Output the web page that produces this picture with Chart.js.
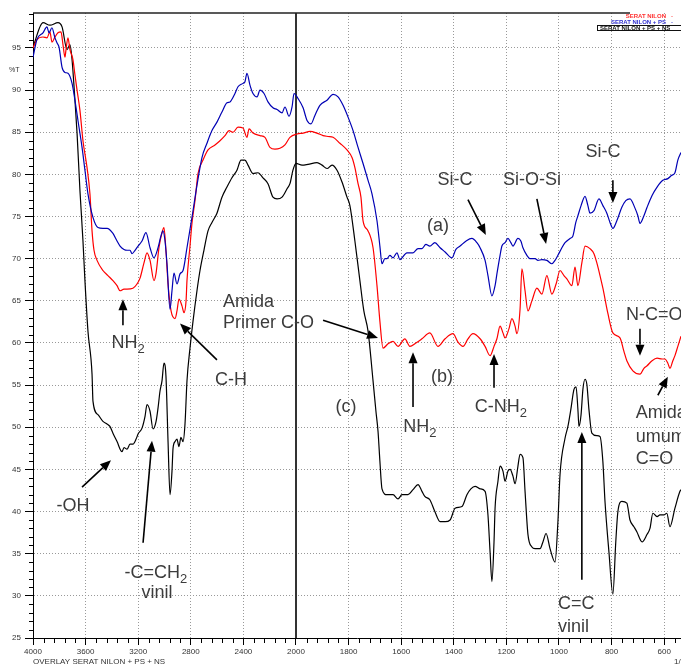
<!DOCTYPE html>
<html>
<head>
<meta charset="utf-8">
<script src="https://cdn.jsdelivr.net/npm/chart.js@4.4.0/dist/chart.umd.min.js"></script>
<style>
  html, body { margin: 0; padding: 0; background: #fff; }
  #wrap { position: relative; width: 681px; height: 664px; }
</style>
</head>
<body>
<div id="wrap"><canvas id="ftir" width="681" height="664"></canvas></div>
<script>
// tick labels
const xTickLabels = ['4000', '3600', '3200', '2800', '2400', '2000', '1800', '1600', '1400', '1200', '1000', '800', '600'];
const yTickLabels = ['25', '30', '35', '40', '45', '50', '55', '60', '65', '70', '75', '80', '85', '90', '95'];

// (a) serat nilon + PS  (blue)
const waveA = [4000, 3970, 3924, 3894, 3878, 3856, 3833, 3817, 3802, 3779, 3757, 3734, 3703, 3681, 3658, 3627, 3605, 3582, 3544, 3506,
    3468, 3437, 3392, 3361, 3338, 3308, 3285, 3262, 3247, 3224, 3201, 3171, 3141, 3110, 3080, 3049, 3027, 3011, 2996, 2981,
    2958, 2943, 2928, 2905, 2882, 2859, 2829, 2791, 2753, 2715, 2677, 2639, 2601, 2563, 2525, 2502, 2464, 2441, 2403, 2388,
    2373, 2350, 2327, 2296, 2274, 2243, 2213, 2175, 2144, 2106, 2084, 2053, 2030, 2015, 1992, 1973, 1958, 1943, 1928, 1909,
    1882, 1859, 1840, 1821, 1802, 1783, 1764, 1745, 1726, 1711, 1692, 1681, 1673, 1662, 1654, 1643, 1631, 1616, 1605, 1578,
    1555, 1536, 1521, 1506, 1491, 1472, 1452, 1433, 1407, 1392, 1376, 1353, 1331, 1312, 1300, 1281, 1270, 1255, 1243, 1236,
    1224, 1217, 1205, 1194, 1183, 1175, 1156, 1145, 1137, 1122, 1110, 1091, 1080, 1065, 1046, 1027, 1015, 1004, 989, 977,
    958, 947, 936, 928, 916, 901, 890, 882, 867, 848, 833, 818, 806, 795, 780, 761, 746, 730, 711, 700,
    692, 677, 665, 646, 627, 605, 586, 571, 559, 548, 536];
const transA = [93.9, 96, 96.8, 97.5, 96.8, 97.4, 96.2, 95.6, 95.1, 92.7, 92.1, 92, 90.8, 88.8, 86.4, 83.2, 80.5, 77.7, 74.9, 73.7,
    73.6, 73.6, 73, 72.1, 71.5, 71.1, 71, 71, 70.6, 71, 71.5, 72.1, 73.1, 71.3, 70.1, 71.3, 72.7, 73.3, 72.1, 69.4,
    64, 66.2, 68.3, 67, 68.2, 68.6, 71.3, 74.9, 78.7, 82, 83.7, 85.2, 86.2, 87.4, 88.5, 88.6, 89.6, 90.4, 90.8, 91,
    92, 90.6, 89.6, 89.2, 90, 89.6, 88.6, 87.9, 87.7, 87.3, 88, 86.9, 88, 89.6, 89, 87.9, 86.4, 86, 87, 88.2,
    88.8, 89.5, 89.2, 88.2, 86.8, 85.2, 83.2, 81.3, 79.3, 77.7, 74.5, 71.5, 69.4, 70, 70, 70.4, 70.1, 70.7, 69.9, 70.7,
    70.7, 71.2, 71.2, 71.7, 71.5, 71.9, 71.3, 70.8, 70.1, 71.1, 71.5, 72.1, 72.4, 71.9, 71.3, 69.8, 68, 65.6, 66.8, 68.2,
    70.4, 71.5, 71.9, 72.4, 71.9, 71.5, 72.4, 72.1, 71.3, 70.4, 70, 70, 69.8, 69.9, 69.8, 69.4, 69.8, 70.4, 71.3, 71.9,
    72.4, 72.7, 74.3, 75.1, 76.3, 77.4, 76.3, 75.4, 75.7, 77.1, 76.3, 75.4, 74.3, 73.6, 74.5, 76.1, 76.9, 77.1, 76, 75.1,
    74.2, 75.1, 76.1, 77.5, 78.5, 79.3, 79.5, 79.9, 80.2, 81.7, 82.6];

// (b) serat nilon  (red)
const waveB = [4000, 3970, 3924, 3894, 3871, 3856, 3833, 3810, 3787, 3772, 3757, 3749, 3734, 3719, 3696, 3681, 3665, 3643, 3620, 3589,
    3567, 3551, 3536, 3513, 3468, 3430, 3392, 3361, 3338, 3308, 3285, 3240, 3209, 3186, 3156, 3133, 3110, 3080, 3064, 3042,
    3019, 3004, 2989, 2973, 2950, 2920, 2905, 2890, 2867, 2852, 2836, 2829, 2806, 2791, 2768, 2745, 2707, 2669, 2616, 2578,
    2540, 2509, 2479, 2441, 2403, 2373, 2357, 2327, 2274, 2236, 2198, 2160, 2122, 2084, 2046, 1996, 1973, 1947, 1920, 1897,
    1878, 1859, 1833, 1806, 1787, 1776, 1764, 1753, 1745, 1726, 1707, 1692, 1681, 1669, 1650, 1631, 1612, 1586, 1567, 1544,
    1521, 1491, 1460, 1433, 1403, 1384, 1365, 1346, 1327, 1300, 1281, 1262, 1247, 1236, 1224, 1213, 1205, 1190, 1179, 1167,
    1160, 1148, 1141, 1129, 1118, 1103, 1084, 1065, 1046, 1027, 1011, 996, 981, 970, 951, 939, 928, 913, 901, 882,
    867, 856, 844, 833, 814, 795, 768, 753, 742, 719, 692, 677, 665, 646, 627, 608, 597, 586, 578, 567,
    559, 548, 536];
const transB = [95, 96, 96.3, 96.2, 96.9, 95.7, 96.3, 96.8, 96.9, 95.4, 93.9, 94.8, 96.2, 94.8, 93.6, 91.8, 90, 87.6, 84, 80.8,
    77.7, 73.3, 71, 69.8, 68.6, 68, 67.4, 66.8, 66.2, 66.4, 66.4, 66.5, 67, 67.7, 69.5, 70.7, 69.8, 67.4, 68.3, 71.3,
    73.1, 73.7, 71, 67, 63.8, 62.9, 63.8, 65.2, 64.4, 63.6, 65, 67.4, 71.5, 74.2, 76.9, 80.1, 81.7, 82.9, 83.5, 84,
    84.6, 85.2, 85, 85.6, 85.5, 84.4, 85.4, 84.9, 84.6, 84.4, 83.2, 83, 83.1, 83.5, 84.4, 84.8, 84.9, 85.1, 84.9, 84.6,
    84.5, 84.4, 83.7, 82.9, 82, 80.8, 78.9, 77.3, 74.5, 73.3, 71.3, 66.8, 62.6, 59.4, 59.9, 60.2, 59.6, 60.5, 59.6, 60,
    60.5, 61.2, 59.6, 60.5, 61.1, 60.1, 59.6, 60.5, 61.1, 60.5, 59.6, 58.5, 59.6, 60.5, 62, 61.2, 60.6, 61.7, 62.9, 62,
    61.1, 64, 68.8, 66.2, 63.8, 65, 66.5, 65.8, 68, 65.8, 67, 68.6, 68, 67.6, 66.8, 69, 66.8, 69.5, 71.5, 71.2,
    70.6, 69.5, 68, 66.5, 63.5, 61.2, 60.6, 59, 57.9, 56.7, 56.3, 57, 57.3, 57.9, 58.2, 58.1, 58.1, 57.6, 57, 57.9,
    58.5, 59.6, 60.8];

// (c) serat nilon + PS + NS  (black)
const waveC = [4000, 3924, 3871, 3810, 3779, 3741, 3719, 3703, 3681, 3665, 3643, 3620, 3605, 3582, 3551, 3544, 3506, 3468, 3437, 3415,
    3392, 3361, 3323, 3308, 3285, 3262, 3240, 3216, 3201, 3171, 3148, 3133, 3110, 3087, 3064, 3049, 3034, 3019, 3004, 2989,
    2973, 2958, 2943, 2935, 2920, 2905, 2890, 2875, 2859, 2844, 2829, 2806, 2783, 2753, 2730, 2700, 2669, 2639, 2601, 2563,
    2525, 2487, 2449, 2418, 2388, 2365, 2327, 2289, 2251, 2213, 2175, 2144, 2106, 2068, 2046, 2023, 2000, 1977, 1954, 1920,
    1901, 1882, 1863, 1844, 1825, 1806, 1795, 1776, 1757, 1742, 1726, 1707, 1696, 1688, 1681, 1673, 1654, 1631, 1612, 1597,
    1574, 1555, 1536, 1521, 1510, 1491, 1472, 1452, 1433, 1414, 1395, 1369, 1350, 1335, 1319, 1300, 1281, 1270, 1262, 1255,
    1247, 1243, 1232, 1224, 1213, 1205, 1194, 1186, 1175, 1167, 1156, 1148, 1137, 1129, 1118, 1103, 1091, 1072, 1061, 1049,
    1034, 1015, 1004, 996, 977, 966, 955, 943, 935, 928, 924, 916, 909, 901, 894, 886, 875, 856, 844, 833,
    825, 810, 795, 784, 776, 761, 742, 730, 715, 704, 684, 665, 654, 643, 627, 616, 601, 590, 578, 559,
    540, 536];
const transC = [95.1, 98, 97.7, 98, 97.5, 94.8, 95.4, 93.6, 88.8, 84.9, 78.1, 72.1, 67.4, 61.4, 56.3, 53.1, 51.5, 50.7, 50.4, 50.1,
    49.3, 48.3, 47.1, 47.6, 47.4, 48, 48, 48.6, 49.2, 49.9, 51.3, 52.7, 51.9, 49.8, 50.7, 52.3, 54.3, 55.5, 57.6, 56.1,
    48.3, 42, 44.8, 47.5, 48.3, 48.6, 47.7, 48.8, 48.3, 50.4, 55.5, 59.4, 62.6, 66.2, 68.6, 71, 73.3, 74.3, 75.4, 77.3,
    78.5, 79.6, 80.5, 81.7, 81.7, 81.1, 80.1, 80.2, 79.6, 78.9, 77.3, 77.1, 77.3, 78.3, 78.9, 80.5, 81.3, 81.1, 81.2, 81.4,
    81.1, 80.7, 81.1, 80.5, 79.1, 77.3, 76.3, 72.1, 67.4, 63.8, 61.4, 55.5, 51.9, 49.5, 46, 42.7, 42, 42, 41.5, 42,
    42, 42.6, 43.2, 42.4, 41.8, 41.4, 40, 38.8, 38.8, 39, 40.4, 40.6, 42, 42.7, 43, 42.7, 42.4, 39.6, 35.2, 31.7,
    36.4, 40.4, 43.6, 45.4, 44.8, 43.6, 44.8, 45, 44.2, 43.3, 45.4, 46.8, 46.4, 42.4, 37.3, 35.8, 35.6, 35.6, 36.4, 37.4,
    35.6, 34, 38.8, 44.4, 48.7, 50.1, 52.1, 54.5, 54.8, 52.1, 50.1, 51.5, 54.5, 55.7, 55.1, 52.1, 49.3, 49, 48.9, 45.9,
    41.2, 35.2, 30.2, 36.4, 40, 41.2, 41, 39, 38.2, 37.6, 36.4, 37.3, 38, 39.8, 39.4, 39.6, 39.6, 39.8, 38.2, 40.4,
    42.4, 42.6];

const legendNames = ['SERAT NILON', 'SERAT NILON + PS', 'SERAT NILON + PS + NS'];

// band labels, placed in data units (wavenumber, %T)
const notes = [
    { text: 'NH_2', wn: 3277, t: 60.0, align: 'center' },
    { text: 'C-H', wn: 2494, t: 55.6, align: 'center' },
    { text: '-OH', wn: 3696, t: 40.7, align: 'center' },
    { text: '-C=CH_2', wn: 3065, t: 32.7, align: 'center' },
    { text: 'vinil', wn: 3057, t: 30.35, align: 'center' },
    { text: 'Amida', wn: 2555, t: 64.9, align: 'left' },
    { text: 'Primer C-O', wn: 2555, t: 62.4, align: 'left' },
    { text: 'NH_2', wn: 1529, t: 50.0, align: 'center' },
    { text: 'C-NH_2', wn: 1221, t: 52.4, align: 'center' },
    { text: '(a)', wn: 1460, t: 73.9, align: 'center' },
    { text: '(b)', wn: 1445, t: 56.0, align: 'center' },
    { text: '(c)', wn: 1810, t: 52.4, align: 'center' },
    { text: 'Si-C', wn: 1395, t: 79.3, align: 'center' },
    { text: 'Si-O-Si', wn: 1103, t: 79.3, align: 'center' },
    { text: 'Si-C', wn: 833, t: 82.7, align: 'center' },
    { text: 'N-C=O', wn: 745, t: 63.3, align: 'left' },
    { text: 'Amida', wn: 708, t: 51.7, align: 'left' },
    { text: 'umum', wn: 708, t: 48.9, align: 'left' },
    { text: 'C=O', wn: 708, t: 46.25, align: 'left' },
    { text: 'C=C', wn: 1004, t: 29.05, align: 'left' },
    { text: 'vinil', wn: 1004, t: 26.3, align: 'left' }
];

const arrows = [
    { from: [3316, 62.1], to: [3316, 65.2] },
    { from: [2601, 58.0], to: [2882, 62.3] },
    { from: [3627, 42.9], to: [3407, 46.1] },
    { from: [3163, 36.3], to: [3095, 48.4] },
    { from: [1897, 62.7], to: [1688, 60.6] },
    { from: [1555, 52.4], to: [1555, 58.9] },
    { from: [1247, 54.7], to: [1247, 58.7] },
    { from: [1346, 77.0], to: [1278, 72.8] },
    { from: [1084, 77.1], to: [1049, 71.75] },
    { from: [795, 79.3], to: [795, 76.6] },
    { from: [692, 61.7], to: [692, 58.5] },
    { from: [624, 53.8], to: [586, 56.0] },
    { from: [913, 31.9], to: [913, 49.45] }
];

// the spectrometer axis changes scale at 2000 cm-1: 400/div above, 200/div below
function toPos(wn) {
    return wn >= 2000 ? (4000 - wn) / 400 : 5 + (2000 - wn) / 200;
}

function toPoints(waves, trans) {
    return waves.map((w, i) => ({ x: toPos(w), y: trans[i] }));
}

const FONT = '"Liberation Sans", Arial, sans-serif';
const TEXT_COLOR = '#3c3c3c';

function drawRich(ctx, str, x, y, align) {
    const parts = str.split('_');
    ctx.font = '18px ' + FONT;
    const w1 = ctx.measureText(parts[0]).width;
    ctx.font = '13px ' + FONT;
    const w2 = parts[1] ? ctx.measureText(parts[1]).width : 0;
    const left = align === 'center' ? x - (w1 + w2) / 2 : x;
    ctx.textAlign = 'left';
    ctx.textBaseline = 'middle';
    ctx.font = '18px ' + FONT;
    ctx.fillText(parts[0], left, y);
    if (parts[1]) {
        ctx.font = '13px ' + FONT;
        ctx.fillText(parts[1], left + w1, y + 6);
    }
}

function drawArrow(ctx, x1, y1, x2, y2) {
    const ang = Math.atan2(y2 - y1, x2 - x1);
    const len = 11, half = 4.5;
    const bx = x2 - len * Math.cos(ang), by = y2 - len * Math.sin(ang);
    ctx.beginPath();
    ctx.moveTo(x1, y1);
    ctx.lineTo(bx, by);
    ctx.stroke();
    ctx.beginPath();
    ctx.moveTo(x2, y2);
    ctx.lineTo(bx - half * Math.sin(ang), by + half * Math.cos(ang));
    ctx.lineTo(bx + half * Math.sin(ang), by - half * Math.cos(ang));
    ctx.closePath();
    ctx.fill();
}

const framePlugin = {
    id: 'frame',
    beforeDatasetsDraw(chart) {
        const { ctx, chartArea: a, scales: { x } } = chart;
        ctx.save();
        // scale break line at 2000
        const px = Math.round(x.getPixelForValue(toPos(2000)));
        ctx.strokeStyle = '#333';
        ctx.lineWidth = 2;
        ctx.beginPath();
        ctx.moveTo(px, a.top);
        ctx.lineTo(px, a.bottom);
        ctx.stroke();
        // top border, stops where the legend starts
        ctx.strokeStyle = '#222';
        ctx.lineWidth = 1.5;
        ctx.beginPath();
        ctx.moveTo(a.left, a.top);
        ctx.lineTo(a.right - 51, a.top);
        ctx.stroke();
        ctx.restore();
    },
    afterDraw(chart) {
        const { ctx, chartArea: a, scales: { x, y } } = chart;
        ctx.save();

        // minor ticks
        ctx.strokeStyle = '#000';
        ctx.lineWidth = 1;
        ctx.beginPath();
        for (let v = 26; v <= 99; v++) {
            if (v % 5 === 0 && v <= 95) continue;
            const py = Math.round(y.getPixelForValue(v)) + 0.5;
            ctx.moveTo(a.left - 4, py);
            ctx.lineTo(a.left, py);
        }
        for (let i = 1; i <= 61; i++) {
            if (i % 5 === 0) continue;
            const px = Math.round(x.getPixelForValue(i / 5)) + 0.5;
            ctx.moveTo(px, a.bottom);
            ctx.lineTo(px, a.bottom + 5);
        }
        ctx.stroke();

        // axis captions
        ctx.fillStyle = '#333';
        ctx.font = '7px ' + FONT;
        ctx.textAlign = 'left';
        ctx.textBaseline = 'middle';
        ctx.fillText('%T', 9, y.getPixelForValue(92.4));
        ctx.textBaseline = 'top';
        ctx.font = '8px ' + FONT;
        ctx.fillText('OVERLAY SERAT NILON + PS + NS', a.left, a.bottom + 20);
        ctx.fillText('1/', a.right - 7, a.bottom + 20);

        // legend
        const colors = ['#ff3030', '#3030d0', '#111'];
        ctx.font = 'bold 6px ' + FONT;
        ctx.textBaseline = 'middle';
        ctx.textAlign = 'right';
        for (let i = 0; i < 2; i++) {
            ctx.fillStyle = colors[i];
            const ty = a.top + 3 + i * 6;
            ctx.fillText(legendNames[i], a.right - 15, ty);
            ctx.fillText('-', a.right - 8, ty);
        }
        ctx.strokeStyle = '#111';
        ctx.lineWidth = 1;
        ctx.strokeRect(a.left + 564.5, a.top + 12.5, 90, 5);
        ctx.fillStyle = '#111';
        ctx.textAlign = 'left';
        ctx.fillText(legendNames[2], a.left + 567, a.top + 15);

        // band assignments
        ctx.fillStyle = '#000';
        ctx.strokeStyle = '#000';
        ctx.lineWidth = 1.6;
        arrows.forEach(ar => {
            drawArrow(ctx,
                x.getPixelForValue(toPos(ar.from[0])), y.getPixelForValue(ar.from[1]),
                x.getPixelForValue(toPos(ar.to[0])), y.getPixelForValue(ar.to[1]));
        });
        ctx.fillStyle = TEXT_COLOR;
        notes.forEach(n => {
            drawRich(ctx, n.text, x.getPixelForValue(toPos(n.wn)), y.getPixelForValue(n.t), n.align);
        });
        ctx.restore();
    }
};

const ctx = document.getElementById('ftir').getContext('2d');
const chart = new Chart(ctx, {
    type: 'line',
    data: {
        datasets: [
            { label: legendNames[1], data: toPoints(waveA, transA), borderColor: '#0000b4', borderWidth: 1.2 },
            { label: legendNames[0], data: toPoints(waveB, transB), borderColor: '#ff0000', borderWidth: 1.2 },
            { label: legendNames[2], data: toPoints(waveC, transC), borderColor: '#000000', borderWidth: 1.2 }
        ]
    },
    options: {
        responsive: false,
        animation: false,
        devicePixelRatio: 1,
        parsing: false,
        elements: {
            point: { radius: 0 },
            line: { cubicInterpolationMode: 'monotone', fill: false }
        },
        layout: { padding: { top: 13, left: 0, right: 0, bottom: 0 } },
        plugins: { legend: { display: false }, tooltip: { enabled: false } },
        scales: {
            x: {
                type: 'linear',
                min: 0,
                max: 12.32,
                afterFit: s => { s.height = 26; },
                border: { display: true, color: '#000', width: 1, dash: [1, 2] },
                grid: {
                    color: c => (c.tick && c.tick.value > 0 && c.tick.value !== 5) ? '#999' : 'rgba(0,0,0,0)',
                    lineWidth: 1,
                    tickLength: 7,
                    tickColor: '#000'
                },
                ticks: {
                    stepSize: 1,
                    includeBounds: false,
                    autoSkip: false,
                    maxRotation: 0,
                    padding: 2,
                    color: '#333',
                    font: { family: FONT, size: 8 },
                    callback: v => xTickLabels[Math.round(v)] || ''
                }
            },
            y: {
                type: 'linear',
                min: 25,
                max: 99.15,
                afterFit: s => { s.width = 33; },
                border: { display: true, color: '#000', width: 1, dash: [1, 2] },
                grid: {
                    color: c => (c.tick && c.tick.value > 25) ? '#999' : 'rgba(0,0,0,0)',
                    lineWidth: 1,
                    tickLength: 8,
                    tickColor: '#000'
                },
                ticks: {
                    stepSize: 5,
                    includeBounds: false,
                    autoSkip: false,
                    padding: 4,
                    color: '#333',
                    font: { family: FONT, size: 8 },
                    callback: v => yTickLabels[Math.round((v - 25) / 5)] || ''
                }
            }
        }
    },
    plugins: [framePlugin]
});
</script>
</body>
</html>
